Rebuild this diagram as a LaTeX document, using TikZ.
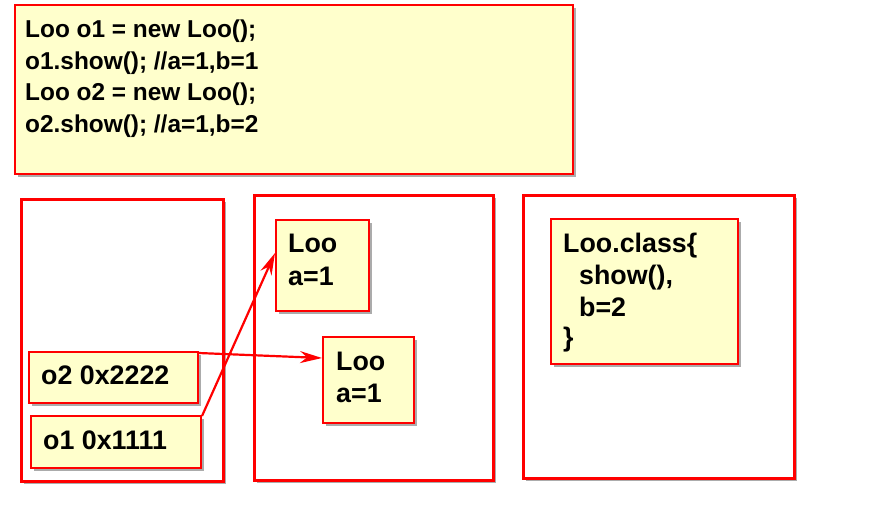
\documentclass[tikz,border=0pt]{standalone}
\usepackage{fontspec}
\setmainfont{Liberation Sans}
\usetikzlibrary{shadows,arrows.meta,calc}
\definecolor{noteyellow}{HTML}{FFFFCC}
\definecolor{framered}{HTML}{FF0000}
\begin{document}
\begin{tikzpicture}[x=1pt,y=-1pt,
  shd/.style={drop shadow={shadow xshift=3pt,shadow yshift=-3pt,opacity=0.5,fill=black!65}},
  frame/.style={draw=framered,line width=2.8pt,fill=white,shd,inner sep=0pt,anchor=north west},
  note/.style={draw=framered,line width=2pt,fill=noteyellow,shd,inner sep=0pt,anchor=north west},
  codetxt/.style={anchor=base west,inner sep=0pt,font=\bfseries\fontsize{24.4}{30}\selectfont},
  boxtxt/.style={anchor=base west,inner sep=0pt,font=\bfseries\fontsize{26.8}{32}\selectfont},
  ptr/.style={draw=framered,line width=2.2pt,-{Stealth[length=22pt,width=12pt]}}
]
\useasboundingbox (0,0) rectangle (877,531);
% code box
\node[note,minimum width=558pt,minimum height=169pt] (code) at (14,4) {};
\node[codetxt] (c1) at (25,37) {Loo o1 = new Loo();};
\node[codetxt] (c2) at (25,69) {o1.show(); //a=1,b=1};
\node[codetxt] (c3) at (25,100) {Loo o2 = new Loo();};
\node[codetxt] (c4) at (25,132) {o2.show(); //a=1,b=2};
% frames
\node[frame,minimum width=202pt,minimum height=282pt] (stack) at (20,198) {};
\node[frame,minimum width=239pt,minimum height=285pt] (heap) at (253,194) {};
\node[frame,minimum width=271pt,minimum height=283pt] (method) at (522,194) {};
% heap objects
\node[note,minimum width=93pt,minimum height=91pt] (loo1) at (275,219) {};
\node[boxtxt] (l1a) at (288,252) {Loo};
\node[boxtxt] (l1b) at (288,285) {a=1};
\node[note,minimum width=91pt,minimum height=86pt] (loo2) at (322,336) {};
\node[boxtxt] (l2a) at (336,370) {Loo};
\node[boxtxt] (l2b) at (336,402) {a=1};
% stack refs
\node[note,minimum width=169pt,minimum height=51pt] (o2) at (28,351) {};
\node[boxtxt] (o2t) at (41,384) {o2 0x2222};
\node[note,minimum width=170pt,minimum height=52pt] (o1) at (30,415) {};
\node[boxtxt] (o1t) at (43,449) {o1 0x1111};
% class box
\node[note,minimum width=187pt,minimum height=145pt] (cls) at (550,218) {};
\node[boxtxt] (k1) at (563,252) {Loo.class\{};
\node[boxtxt] (k2) at (579,284) {show(),};
\node[boxtxt] (k3) at (579,316) {b=2};
\node[boxtxt] (k4) at (563,346) {\}};
% pointers
\draw[ptr] ($(o2.north east)+(0,2)$) -- ($(loo2.north west)+(0,22)$);
\draw[ptr] ($(o1.north east)+(0,1)$) -- ($(loo1.north west)+(0,34)$);
\end{tikzpicture}
\end{document}
